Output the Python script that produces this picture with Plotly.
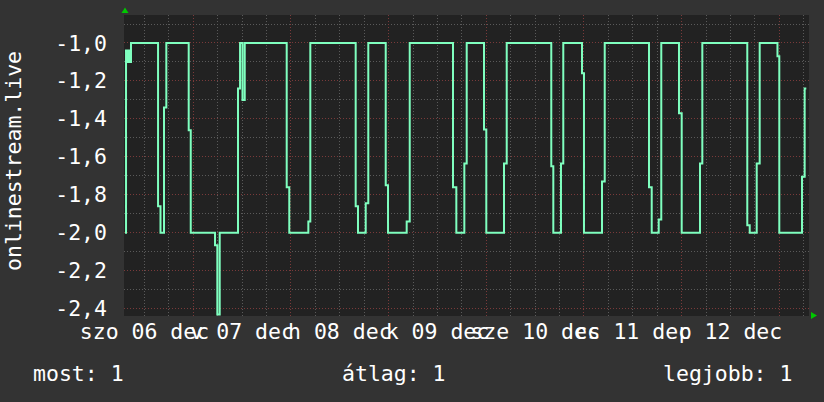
import plotly.graph_objects as go

# ---- data ----
times = [
    "2025-12-06 07:13", "2025-12-06 07:28", "2025-12-06 07:42", "2025-12-06 07:57",
    "2025-12-06 08:12", "2025-12-06 08:41", "2025-12-06 15:20", "2025-12-06 15:56",
    "2025-12-06 16:48", "2025-12-06 17:22", "2025-12-06 22:52", "2025-12-06 23:22",
    "2025-12-07 05:20", "2025-12-07 05:54", "2025-12-07 06:29", "2025-12-07 10:59",
    "2025-12-07 11:29", "2025-12-07 12:05", "2025-12-07 12:38", "2025-12-07 22:57",
    "2025-12-07 23:35", "2025-12-08 04:16", "2025-12-08 04:45", "2025-12-08 15:54",
    "2025-12-08 16:28", "2025-12-08 18:22", "2025-12-08 19:00", "2025-12-08 23:17",
    "2025-12-08 23:51", "2025-12-09 04:26", "2025-12-09 05:11", "2025-12-09 15:49",
    "2025-12-09 16:38", "2025-12-09 18:36", "2025-12-09 19:11", "2025-12-09 23:26",
    "2025-12-10 00:00", "2025-12-10 04:21", "2025-12-10 05:01", "2025-12-10 15:58",
    "2025-12-10 16:28", "2025-12-10 18:21", "2025-12-10 18:55", "2025-12-10 23:31",
    "2025-12-11 00:00", "2025-12-11 04:26", "2025-12-11 05:06", "2025-12-11 15:59",
    "2025-12-11 16:39", "2025-12-11 18:22", "2025-12-11 19:00", "2025-12-11 23:21",
    "2025-12-12 00:01", "2025-12-12 04:31", "2025-12-12 05:05", "2025-12-12 16:08",
    "2025-12-12 16:44", "2025-12-12 18:27", "2025-12-12 19:11", "2025-12-12 23:33",
    "2025-12-13 00:00", "2025-12-13 05:35", "2025-12-13 06:14", "2025-12-13 06:38",
]
values = [
    -2.0, -1.04, -1.10, -1.04,
    -1.10, -1.0, -1.86, -2.0,
    -1.34, -1.0, -1.46, -2.0,
    -2.065, -2.43, -2.0, -1.24,
    -1.0, -1.30, -1.0, -1.76,
    -2.0, -1.94, -1.0, -1.86,
    -2.0, -1.845, -1.0, -1.75,
    -2.0, -1.94, -1.0, -1.76,
    -2.0, -1.635, -1.0, -1.456,
    -2.0, -1.635, -1.0, -1.65,
    -2.0, -1.635, -1.0, -1.16,
    -2.0, -1.73, -1.0, -1.76,
    -2.0, -1.93, -1.0, -1.37,
    -2.0, -1.635, -1.0, -1.96,
    -2.0, -1.635, -1.0, -1.07,
    -2.0, -1.705, -1.24, -1.24,
]

x_range = ["2025-12-06 06:58", "2025-12-13 07:18"]
y_range = [-2.4384, -0.8526]

day_lines = ["2025-12-07", "2025-12-08", "2025-12-09", "2025-12-10",
             "2025-12-11", "2025-12-12", "2025-12-13"]
quarter_lines = [f"2025-12-{d:02d} {h:02d}:00" for d in range(6, 14) for h in (6, 12, 18)]
label_pos = ["2025-12-06 12:00", "2025-12-07 12:00", "2025-12-08 12:00", "2025-12-09 12:00",
             "2025-12-10 12:00", "2025-12-11 12:00", "2025-12-12 12:00"]
label_text = ["szo 06 dec", "v 07 dec", "h 08 dec", "k 09 dec",
              "sze 10 dec", "cs 11 dec", "p 12 dec"]

y_major = [-2.4, -2.2, -2.0, -1.8, -1.6, -1.4, -1.2, -1.0]
y_major_text = ["-2,4", "-2,2", "-2,0", "-1,8", "-1,6", "-1,4", "-1,2", "-1,0"]
y_minor = [-2.3, -2.1, -1.9, -1.7, -1.5, -1.3, -1.1, -0.9]

y_title = "onlinestream.live"
stats = ["most: 1", "átlag: 1", "legjobb: 1"]

# ---- styling ----
W, H = 824, 402
L, R, T, B = 124, 15, 15, 86
PW, PH = W - L - R, H - T - B
BG = "#333333"
PLOT_BG = "#222222"
LINE = "#7fffbf"
MAJ = "#7a3a3a"
MIN = "#5a5a5a"
FONT = "DejaVu Sans Mono"
FS = 21.5


def px(xp):
    return (xp - L) / PW


def py(yp):
    return (H - B - yp) / PH


fig = go.Figure()
fig.add_trace(go.Scatter(
    x=times, y=values, mode="lines", line=dict(color=LINE, width=2, shape="hv"),
    hoverinfo="skip", showlegend=False,
))
# empty helper trace so the label axis (x2) is drawn
fig.add_trace(go.Scatter(
    x=label_pos, y=[None] * len(label_pos), xaxis="x2", yaxis="y", mode="lines",
    hoverinfo="skip", showlegend=False,
))

fig.update_layout(
    width=W, height=H,
    margin=dict(l=L, r=R, t=T, b=B, pad=0, autoexpand=False),
    paper_bgcolor=BG, plot_bgcolor=PLOT_BG,
    font=dict(family=FONT, size=FS, color="#ffffff"),
    showlegend=False,
    xaxis=dict(
        type="date", range=x_range, tickmode="array", tickvals=day_lines,
        ticktext=[""] * len(day_lines), showticklabels=False, ticks="",
        showgrid=True, gridcolor=MAJ, griddash="1px,2px", gridwidth=1,
        minor=dict(tickmode="array", tickvals=quarter_lines, showgrid=True,
                   gridcolor=MIN, griddash="1px,2px", gridwidth=1, ticks=""),
        zeroline=False, showline=False, fixedrange=True, automargin=False,
    ),
    xaxis2=dict(
        type="date", range=x_range, overlaying="x", anchor="y", side="bottom",
        tickmode="array", tickvals=label_pos, ticktext=label_text, tickangle=0,
        showgrid=False, zeroline=False, ticks="", ticklabelstandoff=0,
        tickfont=dict(family=FONT, size=FS, color="#ffffff"), automargin=False,
    ),
    yaxis=dict(
        range=y_range, tickmode="array", tickvals=y_major, ticktext=y_major_text,
        showgrid=True, gridcolor=MAJ, griddash="1px,2px", gridwidth=1,
        minor=dict(tickmode="array", tickvals=y_minor, showgrid=True,
                   gridcolor=MIN, griddash="1px,2px", gridwidth=1, ticks=""),
        zeroline=False, showline=False, ticks="", ticklabelstandoff=16,
        tickfont=dict(family=FONT, size=FS, color="#ffffff"), automargin=False,
    ),
)

annots = [
    dict(text=y_title, x=px(13), y=py(161), textangle=-90),
    dict(text=stats[0], x=px(31), y=py(373), xanchor="left"),
    dict(text=stats[1], x=px(340), y=py(373), xanchor="left"),
    dict(text=stats[2], x=px(661), y=py(373), xanchor="left"),
]
for a in annots:
    fig.add_annotation(xref="paper", yref="paper", showarrow=False,
                       font=dict(family=FONT, size=FS, color="#ffffff"),
                       yanchor="middle", **({"xanchor": "center"} | a))

# small green axis arrows
fig.add_shape(type="path", xref="paper", yref="paper",
              path=f"M {px(121.5)} {py(13)} L {px(128.5)} {py(13)} L {px(125)} {py(7.5)} Z",
              fillcolor="#00c800", line=dict(width=0))
fig.add_shape(type="path", xref="paper", yref="paper",
              path=f"M {px(811)} {py(312)} L {px(811)} {py(319)} L {px(817)} {py(315.5)} Z",
              fillcolor="#00c800", line=dict(width=0))

fig.write_html("out.html", config={"displayModeBar": False},
               post_script="document.body.style.margin='0';")
